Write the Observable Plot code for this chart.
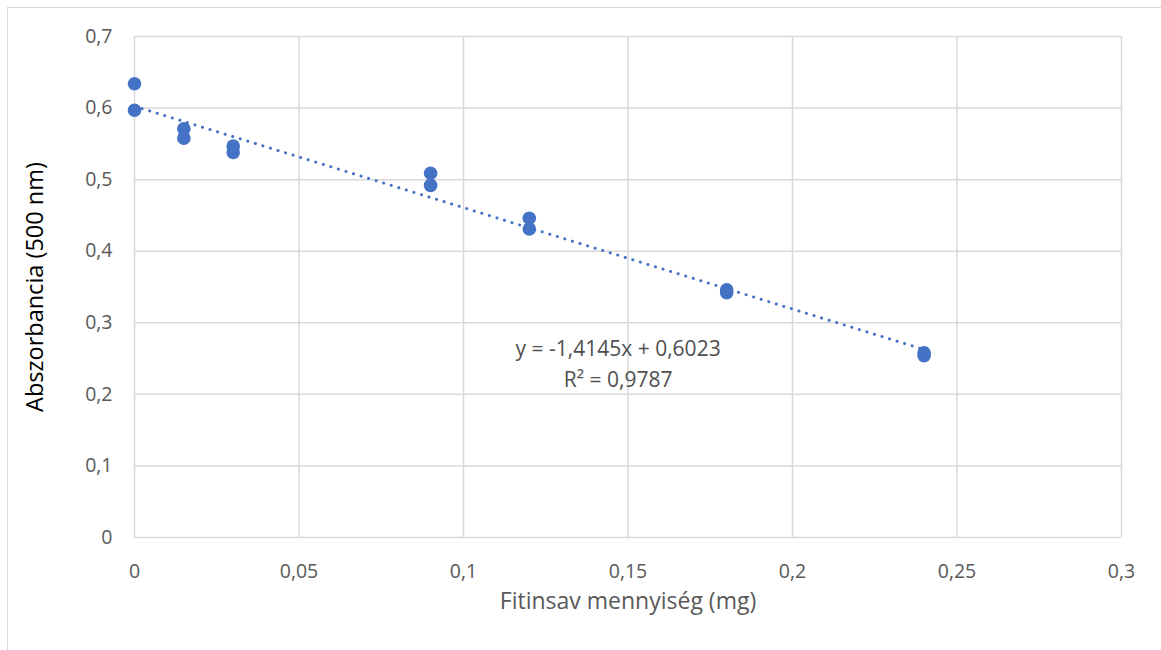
<!DOCTYPE html>
<html>
<head>
<meta charset="utf-8">
<script src="https://cdn.jsdelivr.net/npm/d3@7"></script>
<script src="https://cdn.jsdelivr.net/npm/@observablehq/plot@0.6"></script>
<style>
  html, body { margin: 0; padding: 0; background: #fff; }
  #wrap { position: relative; width: 1161px; height: 650px; overflow: hidden; }
  #frame { position: absolute; left: 7px; top: 7px; width: 1160px; height: 650px;
           border-left: 1.5px solid #d9d9d9; border-top: 1.5px solid #d9d9d9; box-sizing: border-box; }
  #chart { position: absolute; left: 0; top: 0; }
</style>
</head>
<body>
<div id="wrap"><div id="frame"></div><div id="chart"></div></div>
<script>
// Data
const amount = [0, 0, 0.015, 0.015, 0.03, 0.03, 0.09, 0.09, 0.12, 0.12, 0.18, 0.18, 0.24, 0.24];
const absorbance = [0.634, 0.597, 0.571, 0.558, 0.547, 0.538, 0.509, 0.492, 0.446, 0.431, 0.346, 0.342, 0.258, 0.254];
const xTicks = [0, 0.05, 0.1, 0.15, 0.2, 0.25, 0.3];
const yTicks = [0, 0.1, 0.2, 0.3, 0.4, 0.5, 0.6, 0.7];
const eqLabels = ["y = -1,4145x + 0,6023", "R² = 0,9787"];
const eqX = [0.147, 0.147];
const eqY = [0.2626, 0.219];

const points = amount.map((x, i) => ({x, y: absorbance[i]}));
const labels = eqLabels.map((t, i) => ({t, x: eqX[i], y: eqY[i]}));
const fmt = d => String(d).replace(".", ",");
const blue = "#4472C4";
const font = "'Open Sans', 'Liberation Sans', sans-serif";

const chart = Plot.plot({
  width: 1161,
  height: 650,
  marginLeft: 134,
  marginRight: 40,
  marginTop: 36,
  marginBottom: 113,
  style: {fontFamily: font, background: "transparent"},
  x: {domain: [0, 0.3]},
  y: {domain: [0, 0.7]},
  marks: [
    Plot.gridX(xTicks, {stroke: "#d9d9d9", strokeOpacity: 1, strokeWidth: 1.5}),
    Plot.gridY(yTicks, {stroke: "#d9d9d9", strokeOpacity: 1, strokeWidth: 1.5}),
    Plot.axisX(xTicks, {tickSize: 0, tickPadding: 27, tickFormat: fmt, fontSize: 19.5, fill: "#595959", label: null}),
    Plot.axisY(yTicks, {tickSize: 0, tickPadding: 22, tickFormat: fmt, fontSize: 19.5, fill: "#595959", label: null}),
    Plot.linearRegressionY(points, {x: "x", y: "y", ci: 0, stroke: blue, strokeWidth: 3, strokeDasharray: "0.1,7.8", strokeLinecap: "round"}),
    Plot.dot(points, {x: "x", y: "y", r: 6.8, fill: blue, stroke: null}),
    Plot.text(labels, {x: "x", y: "y", text: "t", fontSize: 21, fill: "#505050"}),
    Plot.text(["Fitinsav mennyiség (mg)"], {frameAnchor: "bottom", dy: 71, fontSize: 23, fill: "#595959"}),
    Plot.text(["Abszorbancia (500 nm)"], {frameAnchor: "left", textAnchor: "middle", dx: -99, rotate: -90, fontSize: 23.5, fill: "#000"})
  ]
});
document.getElementById("chart").appendChild(chart);
</script>
</body>
</html>
